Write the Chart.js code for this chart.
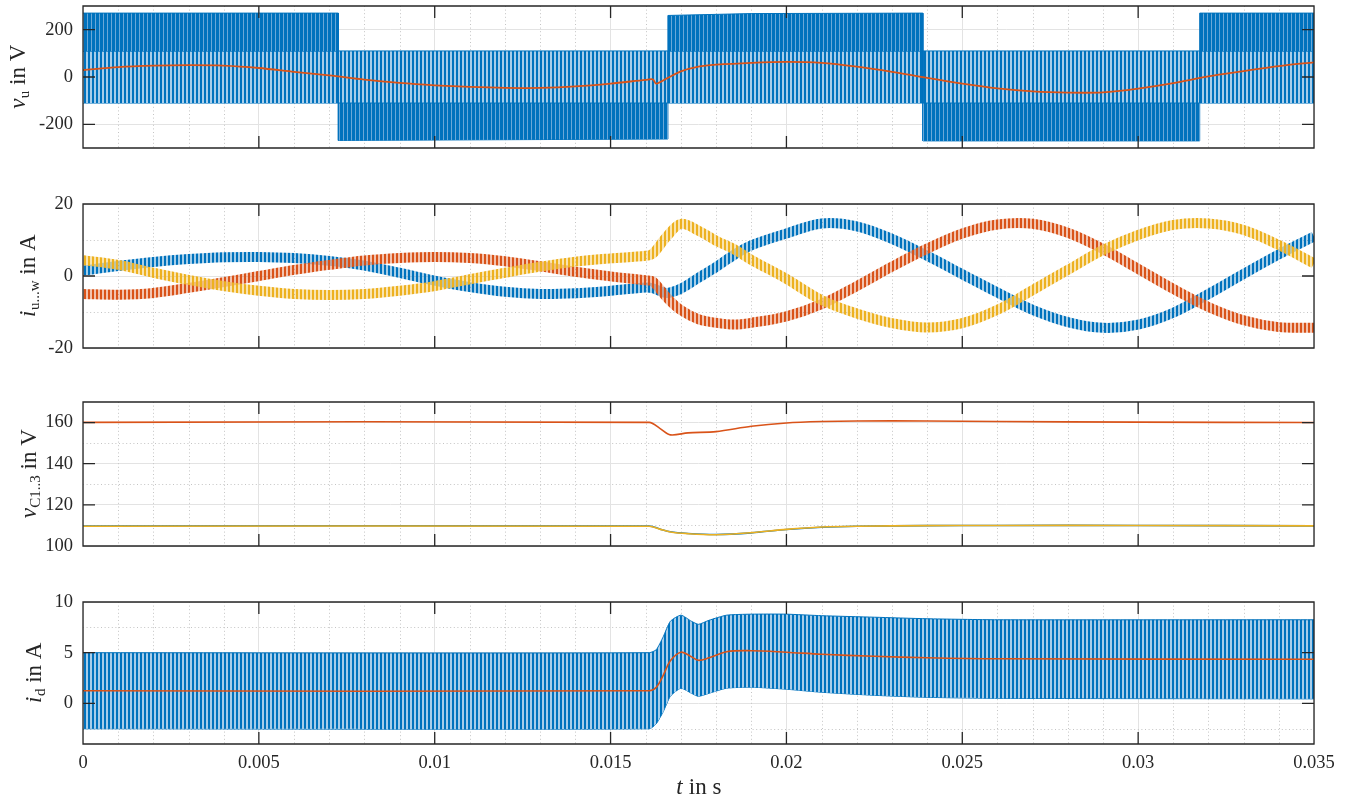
<!DOCTYPE html>
<html>
<head>
<meta charset="utf-8">
<script src="https://cdn.jsdelivr.net/npm/chart.js@4.4.1/dist/chart.umd.min.js"></script>
<style>
    body { margin: 0; background: #fff; }
    .plot { position: absolute; left: 0; }
    canvas { display: block; }
</style>
</head>
<body>
<div class="plot" style="top:0px"><canvas id="cVu" width="1351" height="160"></canvas></div>
<div class="plot" style="top:190px"><canvas id="cIuvw" width="1351" height="170"></canvas></div>
<div class="plot" style="top:390px"><canvas id="cVc" width="1351" height="170"></canvas></div>
<div class="plot" style="top:590px"><canvas id="cId" width="1351" height="208"></canvas></div>
<script>
// --- time axis ---
const xMajor = [0, 0.005, 0.01, 0.015, 0.02, 0.025, 0.03, 0.035];
const xMinor = [0.001, 0.002, 0.003, 0.004, 0.006, 0.007, 0.008, 0.009, 0.011, 0.012, 0.013, 0.014,
    0.016, 0.017, 0.018, 0.019, 0.021, 0.022, 0.023, 0.024, 0.026, 0.027, 0.028, 0.029,
    0.031, 0.032, 0.033, 0.034];

// --- v_u: switched phase voltage (envelopes of the pulse bands) and its filtered mean ---
const tSw = [0, 0.00726, 0.00726, 0.01663, 0.01663, 0.019, 0.02388, 0.02388, 0.03175, 0.03175, 0.035];
const swUpper = [270, 270, -110, -110, 260, 268, 270, -110, -110, 270, 270];
const swLower = [110, 110, -268, -262, 110, 110, 110, -270, -270, 110, 110];
const tMid = [0, 0.035];
const midUpper = [110, 110];
const midLower = [-110, -110];
const tVuf = [0, 0.001, 0.002, 0.003, 0.004, 0.005, 0.006, 0.007, 0.008, 0.009, 0.010, 0.011, 0.012,
    0.013, 0.014, 0.015, 0.016, 0.0162, 0.0163, 0.0166, 0.017, 0.0175, 0.018, 0.019, 0.020, 0.021,
    0.022, 0.023, 0.024, 0.025, 0.026, 0.027, 0.028, 0.029, 0.030, 0.031, 0.032, 0.033, 0.034, 0.035];
const vuFilt = [29, 42, 48, 50, 48, 38, 22, 7, -11, -25, -35, -42, -46,
    -46, -40, -28, -12, -10, -28, -6, 24, 44, 52, 60, 64, 60,
    44, 22, -4, -28, -48, -61, -66, -65, -49, -26, 3, 25, 46, 62];

// --- phase currents i_u, i_v, i_w ---
const tCur = [0, 0.001, 0.002, 0.003, 0.004, 0.005, 0.006, 0.007, 0.008, 0.009, 0.010, 0.011, 0.012,
    0.013, 0.014, 0.015, 0.016, 0.0162, 0.0166, 0.017, 0.0175, 0.018, 0.0185, 0.019, 0.020, 0.021,
    0.022, 0.023, 0.024, 0.025, 0.026, 0.027, 0.028, 0.029, 0.030, 0.031, 0.032, 0.033, 0.034, 0.035];
const iU = [1.5, 2.8, 3.9, 4.7, 5.2, 5.3, 5.0, 4.2, 2.9, 0.9, -1.3, -3.1, -4.4,
    -5.0, -4.8, -4.1, -3.2, -3.4, -4.7, -3.5, -0.5, 2.5, 5.8, 8.5, 11.8, 14.6,
    13.8, 10.3, 5.6, 0.5, -4.6, -9.4, -12.8, -14.4, -13.5, -10.2, -5.0, 0.6, 6.0, 11.0];
const iV = [-5.0, -5.2, -4.7, -3.3, -1.7, 0.0, 1.7, 3.1, 4.3, 5.0, 5.3, 5.0, 4.1,
    2.7, 1.2, -0.1, -1.2, -1.5, -6.0, -9.5, -12.0, -13.0, -13.5, -13.0, -11.2, -7.8,
    -2.8, 2.6, 7.6, 11.8, 14.3, 14.5, 12.0, 7.5, 2.0, -3.6, -8.6, -12.3, -14.2, -14.4];
const iW = [4.4, 3.1, 0.9, -1.1, -2.8, -4.1, -5.0, -5.3, -5.0, -4.1, -2.8, -0.9, 0.9,
    2.6, 4.0, 4.9, 5.6, 6.2, 11.0, 14.5, 12.6, 9.8, 7.5, 4.5, -0.8, -6.7,
    -10.4, -13.1, -14.3, -13.1, -9.4, -3.9, 1.7, 7.2, 11.4, 14.2, 14.6, 12.8, 8.6, 3.5];

// --- capacitor voltages ---
const tVc = [0, 0.0161, 0.0164, 0.0167, 0.0172, 0.018, 0.019, 0.020, 0.021, 0.022, 0.024, 0.026, 0.030, 0.035];
const vC1 = [109.7, 109.7, 108.3, 106.9, 106.1, 105.6, 106.4, 108.0, 109.1, 109.6, 109.9, 110.0, 110.0, 109.8];
const vC2 = [160.1, 160.1, 157.2, 154.0, 155.0, 155.6, 158.2, 159.8, 160.5, 160.8, 160.8, 160.5, 160.2, 160.0];
const vC3 = [109.6, 109.6, 108.2, 106.8, 106.0, 105.5, 106.5, 108.1, 109.2, 109.6, 109.9, 110.0, 110.0, 109.8];

// --- dc current: ripple envelopes and mean ---
const tId = [0, 0.0161, 0.0163, 0.0165, 0.0167, 0.0170, 0.0173, 0.0175, 0.0178, 0.0183, 0.019, 0.020,
    0.021, 0.0225, 0.024, 0.026, 0.035];
const idUpper = [5.0, 5.0, 5.3, 6.6, 8.1, 8.7, 8.1, 7.8, 8.2, 8.7, 8.8, 8.8, 8.65, 8.5, 8.35, 8.25, 8.25];
const idLower = [-2.5, -2.5, -2.0, -0.8, 0.7, 1.5, 1.0, 0.7, 1.0, 1.5, 1.6, 1.4, 1.1, 0.8, 0.6, 0.5, 0.45];
const idMean = [1.25, 1.25, 1.6, 2.8, 4.2, 5.05, 4.6, 4.25, 4.5, 5.1, 5.2, 5.05, 4.85, 4.65, 4.5, 4.4, 4.35];

const BLUE = '#0072BD';
const RED = '#D95319';
const YELLOW = '#EDB120';
const INK = '#262626';
const FONT = 'Liberation Serif';

const pts = (xs, ys) => xs.map((x, i) => ({ x, y: ys[i] }));

// vertical stripes, used to mimic the dense switching ripple
function stripes(a, b, wa, wb) {
    const cv = document.createElement('canvas');
    cv.width = wa + wb;
    cv.height = 4;
    const c = cv.getContext('2d');
    c.fillStyle = a;
    c.fillRect(0, 0, wa, 4);
    c.fillStyle = b;
    c.fillRect(wa, 0, wb, 4);
    return c.createPattern(cv, 'repeat');
}

function mathLabel(ctx, cx, cy, main, sub, rest, rotate) {
    ctx.save();
    ctx.translate(cx, cy);
    if (rotate) ctx.rotate(-Math.PI / 2);
    ctx.fillStyle = INK;
    ctx.textBaseline = 'alphabetic';
    const fMain = 'italic 23px ' + FONT;
    const fSub = '15px ' + FONT;
    const fRest = '23px ' + FONT;
    ctx.font = fMain;
    const w1 = ctx.measureText(main).width;
    ctx.font = fSub;
    const w2 = ctx.measureText(sub).width;
    ctx.font = fRest;
    const w3 = ctx.measureText(rest).width;
    let x = -(w1 + w2 + w3) / 2;
    const base = 8;
    ctx.font = fMain;
    ctx.fillText(main, x, base);
    x += w1 + 0.5;
    if (sub) {
        ctx.font = fSub;
        ctx.fillText(sub, x, base + 4);
        x += w2;
    }
    ctx.font = fRest;
    ctx.fillText(rest, x, base);
    ctx.restore();
}

function axesPlugin(cfg) {
    return {
        id: 'matlabAxes',
        beforeDatasetsDraw(chart) {
            const { ctx, chartArea: a, scales: { x, y } } = chart;
            ctx.save();
            ctx.strokeStyle = '#c4c4c4';
            ctx.lineWidth = 1;
            ctx.setLineDash([1, 2.6]);
            ctx.beginPath();
            for (const v of xMinor) {
                const px = Math.round(x.getPixelForValue(v)) + 0.5;
                ctx.moveTo(px, a.top);
                ctx.lineTo(px, a.bottom);
            }
            for (const v of cfg.yMinor) {
                const py = Math.round(y.getPixelForValue(v)) + 0.5;
                ctx.moveTo(a.left, py);
                ctx.lineTo(a.right, py);
            }
            ctx.stroke();
            ctx.restore();
        },
        afterDatasetsDraw(chart) {
            const { ctx, chartArea: a, scales: { x, y } } = chart;
            ctx.save();
            ctx.strokeStyle = INK;
            ctx.lineWidth = 1.3;
            ctx.beginPath();
            for (const v of xMajor) {
                const px = x.getPixelForValue(v);
                ctx.moveTo(px, a.top);
                ctx.lineTo(px, a.top + 12);
                ctx.moveTo(px, a.bottom);
                ctx.lineTo(px, a.bottom - 12);
            }
            for (const v of cfg.yTicks) {
                const py = y.getPixelForValue(v);
                ctx.moveTo(a.left, py);
                ctx.lineTo(a.left + 12, py);
                ctx.moveTo(a.right, py);
                ctx.lineTo(a.right - 12, py);
            }
            ctx.rect(a.left, a.top, a.right - a.left, a.bottom - a.top);
            ctx.stroke();
            ctx.restore();

            const l = cfg.label;
            mathLabel(ctx, l.x, (a.top + a.bottom) / 2, l.main, l.sub, l.rest, true);
            if (cfg.xTitle) {
                mathLabel(ctx, (a.left + a.right) / 2, chart.height - 12, 't', '', ' in s', false);
            }
        }
    };
}

function makeChart(id, cfg) {
    const tickFont = { family: FONT, size: 18.5 };
    return new Chart(document.getElementById(id), {
        type: 'line',
        data: { datasets: cfg.datasets },
        options: {
            responsive: false,
            animation: false,
            devicePixelRatio: 1,
            layout: { padding: { top: cfg.padTop, right: 37, left: 0, bottom: 0 } },
            elements: {
                point: { radius: 0 },
                line: { borderCapStyle: 'butt', borderJoinStyle: 'round' }
            },
            plugins: { legend: { display: false }, tooltip: { enabled: false } },
            scales: {
                x: {
                    type: 'linear',
                    min: 0,
                    max: 0.035,
                    afterBuildTicks: s => { s.ticks = xMajor.map(v => ({ value: v })); },
                    afterFit: s => {
                        s.height = cfg.xHeight;
                        s.paddingLeft = 0;
                        s.paddingRight = 0;
                    },
                    grid: { color: '#e3e3e3', drawTicks: false },
                    border: { display: false },
                    ticks: {
                        display: !!cfg.xTitle,
                        padding: 8,
                        maxRotation: 0,
                        autoSkip: false,
                        color: INK,
                        font: tickFont,
                        callback: v => String(+v.toFixed(3))
                    }
                },
                y: {
                    type: 'linear',
                    min: cfg.yMin,
                    max: cfg.yMax,
                    afterBuildTicks: s => { s.ticks = cfg.yTicks.map(v => ({ value: v })); },
                    afterFit: s => {
                        s.width = 83;
                        s.paddingTop = 0;
                        s.paddingBottom = 0;
                    },
                    grid: { color: '#e3e3e3', drawTicks: false },
                    border: { display: false },
                    ticks: { padding: 10, color: INK, font: tickFont, callback: v => String(v) }
                }
            }
        },
        plugins: [axesPlugin(cfg)]
    });
}

const line = (data, color, width, extra) => Object.assign({
    data, borderColor: color, borderWidth: width, fill: false, tension: 0
}, extra || {});

makeChart('cVu', {
    padTop: 6, xHeight: 12,
    yMin: -300, yMax: 300, yTicks: [-200, 0, 200], yMinor: [-100, 100],
    label: { x: 17, main: 'v', sub: 'u', rest: ' in V' },
    datasets: [
        line(pts(tVuf, vuFilt), RED, 1.8, { tension: 0.3 }),
        line(pts(tSw, swUpper), BLUE, 1, { fill: '+1', backgroundColor: stripes(BLUE, '#6aa8d8', 3, 1) }),
        line(pts(tSw, swLower), BLUE, 1),
        line(pts(tMid, midUpper), BLUE, 1, { fill: '+1', backgroundColor: stripes(BLUE, '#a7cdea', 2, 2) }),
        line(pts(tMid, midLower), BLUE, 1)
    ]
});

makeChart('cIuvw', {
    padTop: 14, xHeight: 12,
    yMin: -20, yMax: 20, yTicks: [-20, 0, 20], yMinor: [-10, 10],
    label: { x: 27, main: 'i', sub: 'u...w', rest: ' in A' },
    datasets: [
        line(pts(tCur, iW), stripes(YELLOW, 'rgba(237,177,32,0.35)', 2, 2), 10, { tension: 0.35 }),
        line(pts(tCur, iV), stripes(RED, 'rgba(217,83,25,0.35)', 2, 2), 10, { tension: 0.35 }),
        line(pts(tCur, iU), stripes(BLUE, 'rgba(0,114,189,0.35)', 2, 2), 10, { tension: 0.35 })
    ]
});

makeChart('cVc', {
    padTop: 12, xHeight: 14,
    yMin: 100, yMax: 170, yTicks: [100, 120, 140, 160], yMinor: [110, 130, 150],
    label: { x: 28, main: 'v', sub: 'C1..3', rest: ' in V' },
    datasets: [
        line(pts(tVc, vC2), RED, 1.6, { tension: 0.3 }),
        line(pts(tVc, vC3), YELLOW, 1.6, { tension: 0.3 }),
        line(pts(tVc, vC1), BLUE, 1.6, { tension: 0.3 })
    ]
});

makeChart('cId', {
    padTop: 12, xHeight: 54, xTitle: true,
    yMin: -4, yMax: 10, yTicks: [0, 5, 10], yMinor: [-2.5, 2.5, 7.5],
    label: { x: 33, main: 'i', sub: 'd', rest: ' in A' },
    datasets: [
        line(pts(tId, idMean), RED, 1.6, { tension: 0.35 }),
        line(pts(tId, idUpper), BLUE, 1, { fill: '+1', backgroundColor: stripes(BLUE, '#a7cdea', 2, 2), tension: 0.2 }),
        line(pts(tId, idLower), BLUE, 1, { tension: 0.2 })
    ]
});
</script>
</body>
</html>
